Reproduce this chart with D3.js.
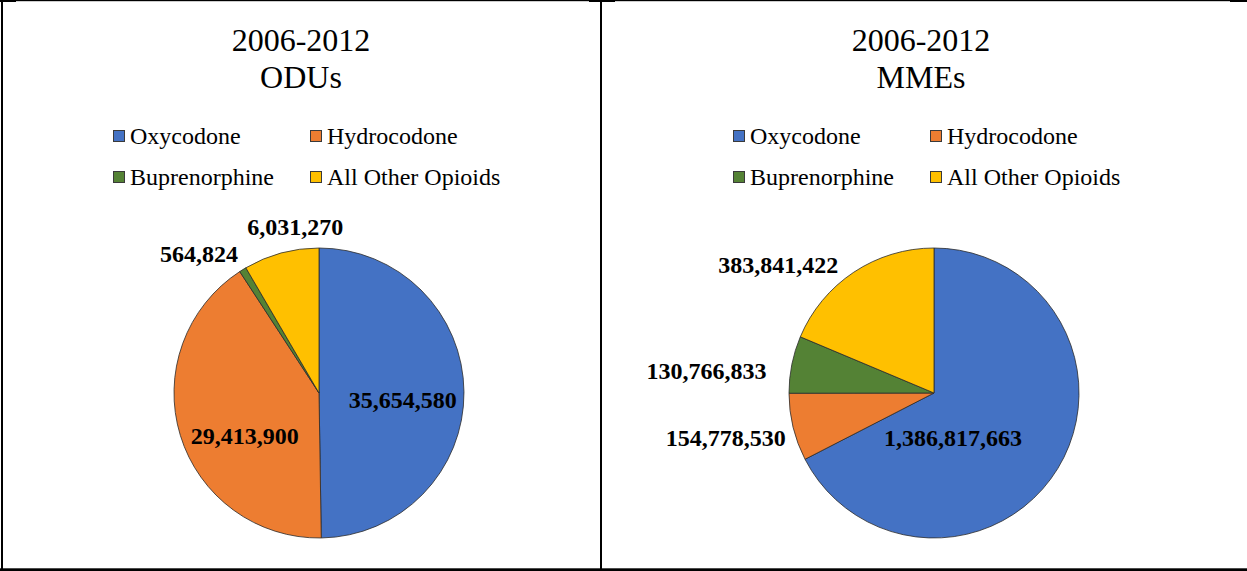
<!DOCTYPE html>
<html>
<head>
<meta charset="utf-8">
<script src="https://cdn.jsdelivr.net/npm/d3@7"></script>
<style>
  html, body { margin: 0; padding: 0; background: #fff; }
  svg { display: block; }
</style>
</head>
<body>
<svg id="chart" width="1247" height="571"></svg>
<script>
// Opioid distribution totals, 2006-2012
const categories = ["Oxycodone", "Hydrocodone", "Buprenorphine", "All Other Opioids"];
const oduValues = [35654580, 29413900, 564824, 6031270];
const mmeValues = [1386817663, 154778530, 130766833, 383841422];
const titleYears = "2006-2012";
const panelNames = ["ODUs", "MMEs"];

const colors = ["#4472C4", "#ED7D31", "#548235", "#FFC000"];
const fmt = d3.format(",");

const svg = d3.select("#chart");
const W = 1247, H = 571;

// Table-style frame around the two panels
const frame = svg.append("g").attr("fill", "#000");
frame.append("rect").attr("x", 0).attr("y", 0).attr("width", W).attr("height", 1.2);
[[0, 16], [589, 615], [1230, W]].forEach(([a, b]) =>
  frame.append("rect").attr("x", a).attr("y", 0).attr("width", b - a).attr("height", 2));
frame.append("rect").attr("x", 1).attr("y", 0).attr("width", 2).attr("height", H);
frame.append("rect").attr("x", 600).attr("y", 0).attr("width", 2).attr("height", H);
frame.append("rect").attr("x", 0).attr("y", 568.3).attr("width", W).attr("height", 3);

// Panel layout: title/legend centre, pie centre, and label placement
// (radius as a fraction of the pie radius, angular shift in degrees from slice middle)
const panels = [
  {
    name: panelNames[0], values: oduValues, textCx: 301, legendX: 113, pieCx: 319, pieCy: 393,
    labels: [[0.58, 5], [0.59, -12.7], [1.27, -9], [1.157, 7]]
  },
  {
    name: panelNames[1], values: mmeValues, textCx: 921, legendX: 733, pieCx: 934, pieCy: 393,
    labels: [[0.337, 35.7], [1.47, 1.5], [1.576, -5.8], [1.39, -17]]
  }
];

const R = 145;
const pie = d3.pie().sort(null).value(d => d.value);
const arc = d3.arc().innerRadius(0).outerRadius(R);

panels.forEach(p => {
  const g = svg.append("g");

  // Two-line title
  const title = g.append("text")
    .attr("x", p.textCx).attr("text-anchor", "middle")
    .attr("font-family", "'Liberation Serif', 'Times New Roman', serif")
    .attr("font-size", 32).attr("fill", "#000");
  title.append("tspan").attr("x", p.textCx).attr("y", 51).text(titleYears);
  title.append("tspan").attr("x", p.textCx).attr("y", 88).text(p.name);

  // Legend: two rows by two columns
  const colGap = 197, rowGap = 41;
  const leg = g.append("g")
    .attr("font-family", "'Liberation Serif', 'Times New Roman', serif")
    .attr("font-size", 24).attr("fill", "#000");
  categories.forEach((c, i) => {
    const lx = p.legendX + (i % 2) * colGap;
    const ly = 144 + Math.floor(i / 2) * rowGap;
    leg.append("rect")
      .attr("x", lx + 0.5).attr("y", ly - 13.5)
      .attr("width", 11).attr("height", 11)
      .attr("fill", colors[i]).attr("stroke", "#3a3a3a").attr("stroke-width", 1);
    leg.append("text").attr("x", lx + 17).attr("y", ly).text(c);
  });

  // Pie slices, clockwise from 12 o'clock
  const data = categories.map((c, i) => ({ key: c, value: p.values[i], color: colors[i] }));
  const arcs = pie(data);
  const pg = g.append("g").attr("transform", `translate(${p.pieCx},${p.pieCy})`);
  pg.selectAll("path").data(arcs).join("path")
    .attr("d", arc)
    .attr("fill", d => d.data.color)
    .attr("stroke", "#2b2b2b").attr("stroke-width", 0.8)
    .attr("stroke-linejoin", "round");

  // Value labels placed along each slice's angular middle
  pg.selectAll("text.value").data(arcs).join("text")
    .attr("class", "value")
    .each(function (d, i) {
      const [k, shift] = p.labels[i];
      const a = (d.startAngle + d.endAngle) / 2 + shift * Math.PI / 180;
      const rr = k * R;
      d3.select(this)
        .attr("x", Math.sin(a) * rr)
        .attr("y", -Math.cos(a) * rr);
    })
    .attr("text-anchor", "middle")
    .attr("dy", "0.35em")
    .attr("font-family", "'Liberation Serif', 'Times New Roman', serif")
    .attr("font-weight", "bold").attr("font-size", 24).attr("fill", "#000")
    .text(d => fmt(d.data.value));
});
</script>
</body>
</html>
